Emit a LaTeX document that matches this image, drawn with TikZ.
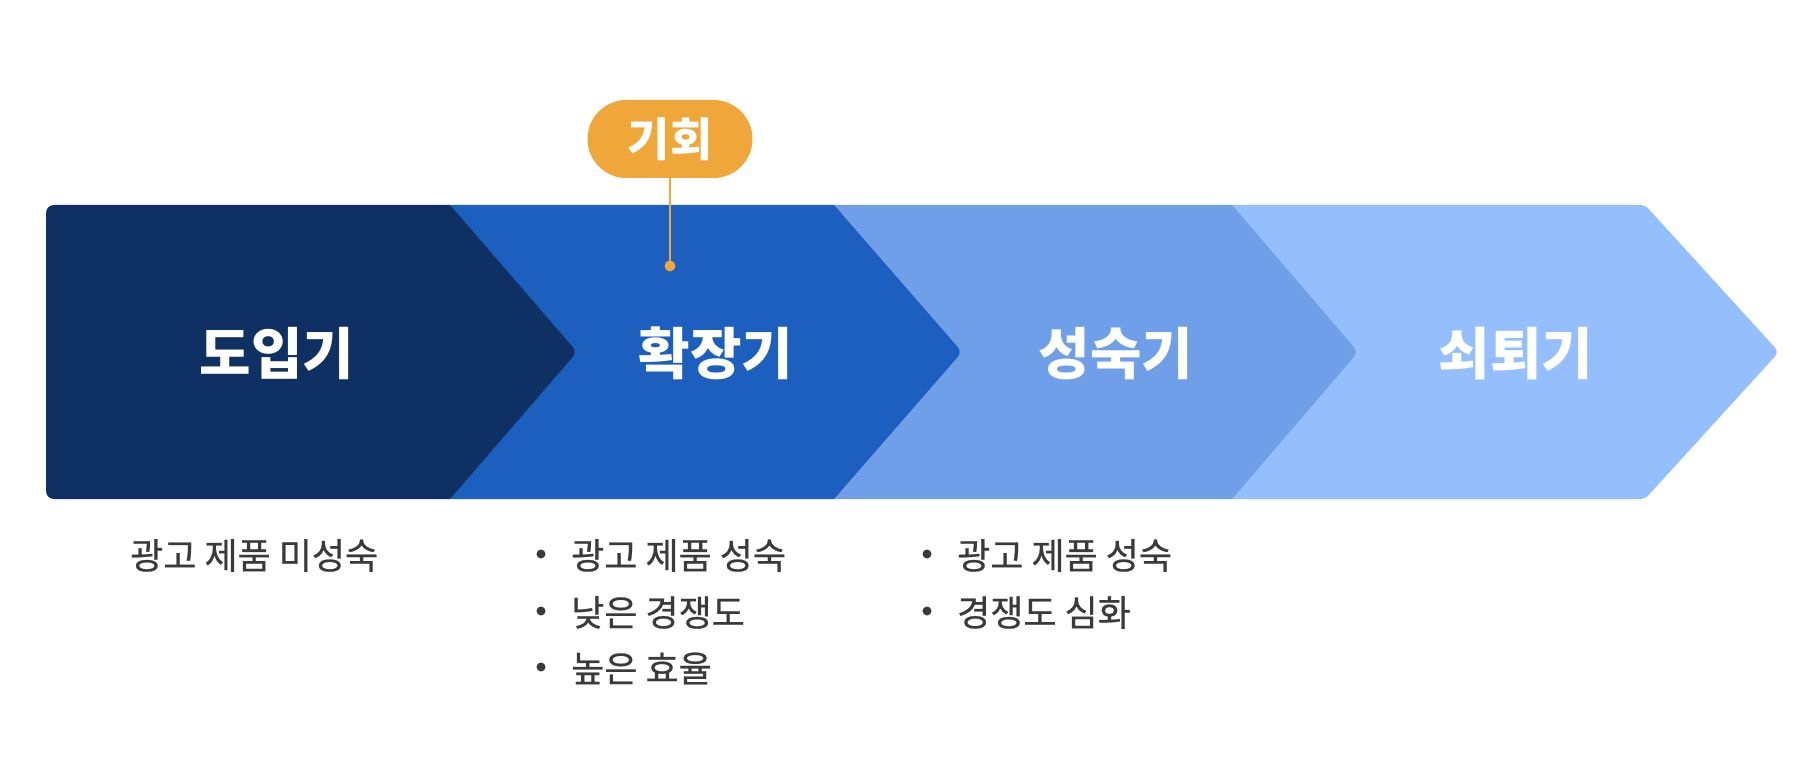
\documentclass[tikz,border=0pt]{standalone}
\usepackage{fontspec}
\newfontfamily\kr{Noto Sans CJK KR}
\newfontfamily\krm{Noto Sans CJK KR}[FakeBold=0.6]
\usetikzlibrary{shapes.misc}
\definecolor{cA}{HTML}{0F3063}
\definecolor{cB}{HTML}{1C5FBF}
\definecolor{cC}{HTML}{6E9FE8}
\definecolor{cD}{HTML}{94BEFC}
\definecolor{corange}{HTML}{F0A73A}
\definecolor{cgray}{HTML}{3A3A3A}
\tikzset{
  stagelabel/.style={text=white, font=\kr\bfseries\fontsize{56}{64}\selectfont, anchor=base, inner sep=0pt},
  notetext/.style={text=cgray, font=\krm\fontsize{36}{44}\selectfont, anchor=base west, inner sep=0pt},
  bulletdot/.style={circle, fill=cgray, minimum size=9pt, inner sep=0pt},
  pill/.style={rounded rectangle, fill=corange, text=white, minimum width=165pt, minimum height=78pt, inner sep=0pt, font=\kr\bfseries\fontsize{46}{52}\selectfont},
  pinline/.style={draw=corange, line width=2pt},
  pindot/.style={circle, fill=corange, minimum size=11pt, inner sep=0pt}
}
\begin{document}
\begin{tikzpicture}[x=1pt,y=-1pt]
\useasboundingbox[fill=white] (0,0) rectangle (1800,778);
% chevron band, drawn right to left; each notch lies hidden under the previous shape
\fill[cD] (1232,205) [rounded corners=5] -- (1645,205) [rounded corners=6] -- (1779,352) [rounded corners=5] -- (1645,499) [sharp corners] -- (1232,499) -- (1340,352) -- cycle;
\fill[cC] (834,205) -- (1232,205) [rounded corners=6] -- (1358,352) [sharp corners] -- (1232,499) -- (834,499) -- (945,352) -- cycle;
\fill[cB] (450,205) -- (834,205) [rounded corners=6] -- (962,352) [sharp corners] -- (834,499) -- (450,499) -- (560,352) -- cycle;
\fill[cA] (46,352) [rounded corners=8] -- (46,205) [sharp corners] -- (450,205) [rounded corners=6] -- (577,352) [sharp corners] -- (450,499) [rounded corners=8] -- (46,499) [sharp corners] -- cycle;
% stage labels
\node[stagelabel] (s1) at (277,374) {도입기};
\node[stagelabel] (s2) at (716,374) {확장기};
\node[stagelabel] (s3) at (1116,374) {성숙기};
\node[stagelabel] (s4) at (1516,374) {쇠퇴기};
% opportunity marker
\node[pill] (opp) at (670,139) {\raisebox{-2pt}{기회}};
\node[pindot] (pdot) at (670,266) {};
\draw[pinline] (opp.south) -- (pdot.center);
% notes
\node[notetext] (n1) at (130,569) {광고 제품 미성숙};
\node[bulletdot] (b21) at (541,554) {};
\node[notetext] (n21) at (571,569) {광고 제품 성숙};
\node[bulletdot] (b22) at (541,611) {};
\node[notetext] (n22) at (571,626) {낮은 경쟁도};
\node[bulletdot] (b23) at (541,667) {};
\node[notetext] (n23) at (571,682) {높은 효율};
\node[bulletdot] (b31) at (927,554) {};
\node[notetext] (n31) at (957,569) {광고 제품 성숙};
\node[bulletdot] (b32) at (927,611) {};
\node[notetext] (n32) at (957,626) {경쟁도 심화};
\end{tikzpicture}
\end{document}
